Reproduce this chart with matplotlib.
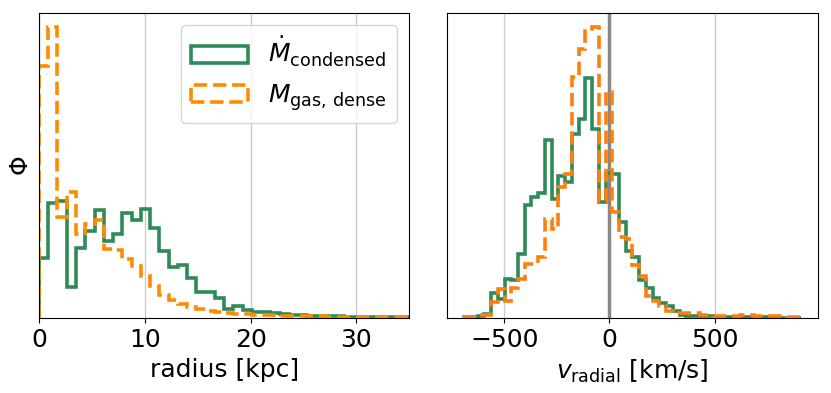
import numpy as np
import matplotlib
matplotlib.use("Agg")
import matplotlib.pyplot as plt

# left panel: radius histograms, 40 bins over 0-35 kpc
radius_edges = np.linspace(0, 35, 41)
radius_condensed = [60, 115.7, 117.3, 31.5, 70.5, 87.5, 109, 77, 85, 106,
                    98.5, 110, 90.5, 67, 51.4, 53.7, 40, 26, 26, 20.4,
                    9.7, 12, 8, 6.7, 6.7, 5.4, 4, 3.5, 3, 2.8,
                    2.5, 2.2, 2, 1.8, 1.6, 1.4, 1.2, 1.1, 1, 0.9]
radius_dense = [253, 291.7, 101.7, 126.7, 85, 94.3, 98.3, 69.5, 68, 59,
                52, 42.5, 32, 23, 18, 14.5, 11, 9.5, 7.5, 6.5,
                5, 4.5, 4, 3.5, 3.2, 3, 2.7, 2.5, 2.3, 2.1,
                2, 1.8, 1.7, 1.6, 1.5, 1.4, 1.3, 1.2, 1.1, 1.0]

# right panel: radial velocity histograms, 50 bins
vrad_edges = np.linspace(-690, 910, 51)
vrad_condensed = [1.3, 1.5, 2.7, 4.7, 25, 19, 39, 38, 65, 114,
                  122, 126, 179, 120, 143, 137, 185, 200, 241, 190,
                  117, 146, 145, 97, 68, 62, 38, 30, 20, 15,
                  12, 7.5, 3.5, 2.8, 2.5, 2.2, 2, 1.8, 1.6, 1.5,
                  1.3, 1.2, 1.1, 1, 0.9, 0.8, 0.8, 0.7, 0.6, 0.6]
vrad_dense = [1.7, 1.7, 3.3, 3.3, 16, 29, 17, 30, 39, 54,
              55, 62, 100, 90, 132, 145, 242, 270, 288, 292,
              118, 227, 107, 82, 80, 53, 42, 22, 17, 12,
              7, 5, 5, 5, 5, 3.5, 3.5, 2, 2, 2,
              2, 3, 3, 2, 2, 2, 2, 2, 1.8, 1.8]

green = "#2e8b57"
fs = 18

fig = plt.figure(figsize=(8.31, 3.93), dpi=100)
ax1 = fig.add_axes([0.0469, 0.19, 0.4456, 0.7777])
ax2 = fig.add_axes([0.5383, 0.19, 0.4456, 0.7777])

rc = 0.5 * (radius_edges[1:] + radius_edges[:-1])
ax1.hist(rc, bins=radius_edges, weights=radius_condensed, histtype="step",
         color=green, lw=2.6, label=r"$\dot{M}_{\rm condensed}$")
ax1.hist(rc, bins=radius_edges, weights=radius_dense, histtype="step",
         color="darkorange", lw=2.6, ls="--", label=r"$M_{\rm gas,\,dense}$")
ax1.set_xlim(0, 35)
ax1.set_xticks([0, 10, 20, 30])
ax1.set_yticks([])
ax1.grid(axis="x", color="#cccccc", lw=1)
ax1.set_axisbelow(True)
ax1.set_xlabel("radius [kpc]", fontsize=fs)
ax1.set_ylabel(r"$\Phi$", fontsize=fs)
ax1.tick_params(labelsize=fs)
ax1.legend(loc="upper right", fontsize=fs, handlelength=2.3)

vc = 0.5 * (vrad_edges[1:] + vrad_edges[:-1])
ax2.hist(vc, bins=vrad_edges, weights=vrad_condensed, histtype="step",
         color=green, lw=2.6)
ax2.hist(vc, bins=vrad_edges, weights=vrad_dense, histtype="step",
         color="#ff7f0e", lw=2.6, ls="--")
ax2.set_xticks([-500, 0, 500])
ax2.set_yticks([])
ax2.grid(axis="x", color="#cccccc", lw=1)
ax2.set_axisbelow(True)
ax2.axvline(0, color="#888888", lw=2.5, zorder=1.5)
ax2.set_xlabel(r"$v_{\rm radial}$ [km/s]", fontsize=fs)
ax2.tick_params(labelsize=fs)

fig.savefig("out.png", dpi=100)
